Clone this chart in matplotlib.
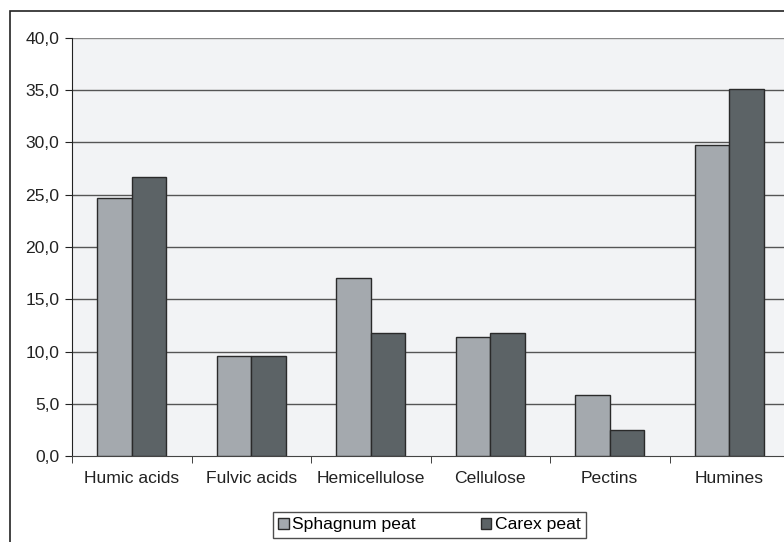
import matplotlib
matplotlib.use("Agg")
import matplotlib.pyplot as plt
import numpy as np
from matplotlib.patches import Rectangle

categories = ["Humic acids", "Fulvic acids", "Hemicellulose", "Cellulose", "Pectins", "Humines"]
sphagnum = [24.7, 9.6, 17.0, 11.4, 5.8, 29.8]
carex = [26.7, 9.6, 11.8, 11.8, 2.5, 35.1]
yticks = [0, 5, 10, 15, 20, 25, 30, 35, 40]

plt.rcParams['font.family'] = ['Liberation Sans', 'DejaVu Sans']
FS = 12.6

W, H = 784, 542
fig = plt.figure(figsize=(W/100, H/100), dpi=100)

# outer border
fig.patches.append(Rectangle((10/W, -0.05), 1.0, 1 - 11/H + 0.05, transform=fig.transFigure,
                             fill=False, edgecolor='#222222', linewidth=1.2, zorder=0))

ax = fig.add_axes([72/W, 1 - 456/H, 717/W, 418/H])
ax.set_facecolor('#f2f3f5')
x = np.arange(len(categories))
w = 0.29
ax.bar(x - w/2, sphagnum, w, color='#a4a9ae', edgecolor='#2a2a2a', linewidth=1.0, label='Sphagnum peat', zorder=3)
ax.bar(x + w/2, carex, w, color='#5c6366', edgecolor='#2a2a2a', linewidth=1.0, label='Carex peat', zorder=3)

ax.set_xlim(-0.5, len(categories) - 0.5)
ax.set_ylim(0, 40)
ax.set_yticks(yticks)
ax.set_yticklabels([f"{v:.1f}".replace('.', ',') for v in yticks], fontsize=FS, color='#222222')
ax.set_xticks(x)
ax.set_xticklabels(categories, fontsize=FS, color='#222222')
ax.tick_params(axis='x', length=0, pad=11)
ax.set_xticks(np.arange(-0.5, len(categories)), minor=True)
ax.tick_params(axis='x', which='minor', length=5, direction='out', color='#222222')
ax.tick_params(axis='y', length=5, direction='out', color='#222222', pad=4)

for v in yticks[1:]:
    ax.axhline(v, color='#555555' if v < 40 else '#888888', linewidth=1.0, zorder=1)

for s in ['top', 'right']:
    ax.spines[s].set_visible(False)
ax.spines['left'].set_color('#222222')
ax.spines['bottom'].set_color('#444444')

leg = fig.legend(loc='upper left', bbox_to_anchor=(273/W, 1 - 512/H), ncol=2,
                 frameon=True, fancybox=False, edgecolor='#222222', fontsize=FS,
                 handlelength=0.6, handleheight=0.6, handletextpad=0.2,
                 columnspacing=3.7, borderaxespad=0, borderpad=0.3)
leg.get_frame().set_linewidth(1.0)

fig.savefig("out.png", dpi=100)
